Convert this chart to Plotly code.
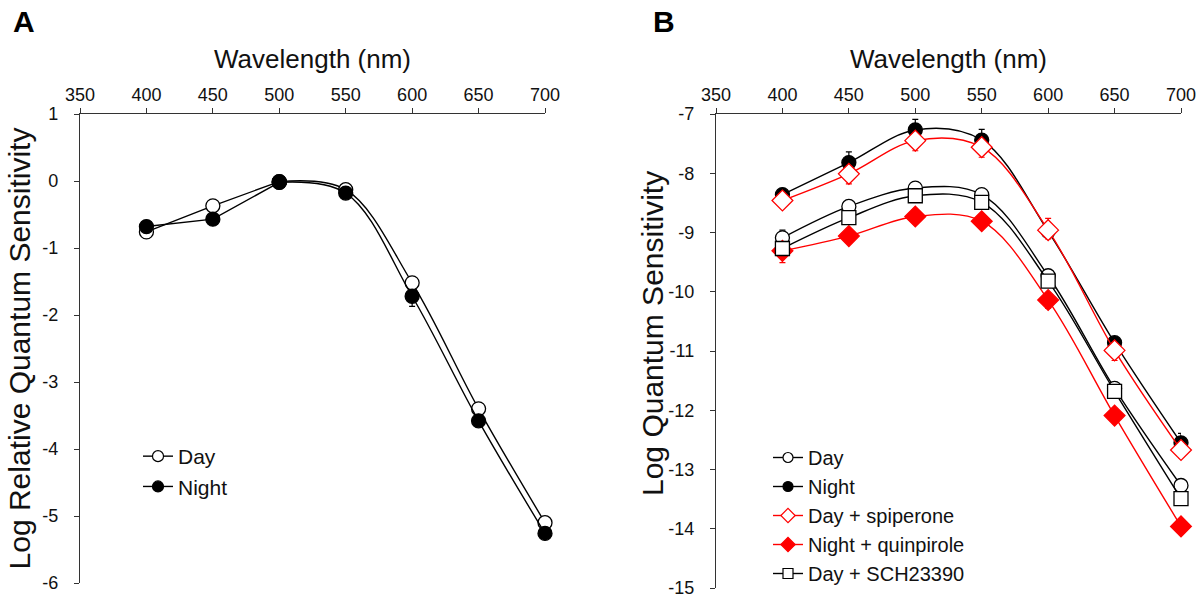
import plotly.graph_objects as go

wavelength = [400, 450, 500, 550, 600, 650, 700]

# Panel A: log relative quantum sensitivity
a_day = [-0.76, -0.37, -0.01, -0.13, -1.52, -3.40, -5.10]
a_night = [-0.68, -0.57, -0.02, -0.18, -1.72, -3.58, -5.26]
a_night_err_minus = [0.0, 0.0, 0.0, 0.0, 0.15, 0.0, 0.0]

# Panel B: log quantum sensitivity
b_day = [-9.09, -8.56, -8.25, -8.36, -9.73, -11.63, -13.27]
b_day_err_plus = [0.13, 0.05, 0.05, 0.0, 0.0, 0.0, 0.0]
b_night = [-8.36, -7.82, -7.27, -7.44, -8.98, -10.86, -12.55]
b_night_err_plus = [0.04, 0.18, 0.18, 0.18, 0.0, 0.05, 0.16]
b_spip = [-8.46, -8.01, -7.45, -7.56, -8.96, -10.99, -12.67]
b_spip_err_minus = [0.03, 0.17, 0.17, 0.17, 0.15, 0.17, 0.13]
b_spip_err_plus = [0.0, 0.0, 0.0, 0.0, 0.2, 0.0, 0.0]
b_quin = [-9.31, -9.06, -8.73, -8.81, -10.14, -12.09, -13.96]
b_quin_err_minus = [0.2, 0.0, 0.0, 0.0, 0.14, 0.0, 0.0]
b_quin_err_plus = [0.0, 0.0, 0.0, 0.0, 0.12, 0.0, 0.0]
b_sch = [-9.27, -8.75, -8.38, -8.49, -9.82, -11.68, -13.49]

x_ticks = [350, 400, 450, 500, 550, 600, 650, 700]
a_yticks = [1, 0, -1, -2, -3, -4, -5, -6]
a_yticklabels = ["1", "0", "-1", "-2", "-3", "-4", "-5", "-6"]
b_yticks = [-7, -8, -9, -10, -11, -12, -13, -14, -15]
b_yticklabels = ["-7", "-8", "-9", "-10", "-11", "-12", "-13", "-14", "-15"]

W, H = 1200, 598
FONT = "Liberation Sans, Arial, sans-serif"
RED = "#ff0000"
BLK = "#000000"

fig = go.Figure()

def px(xp):
    return xp / W

def py(yp):
    return 1 - yp / H

# ---- Panel A ----
for name, ys, fill, err in [("Day", a_day, "white", None), ("Night", a_night, BLK, a_night_err_minus)]:
    marker = dict(symbol="circle", size=14, color=fill, line=dict(color=BLK, width=1.3))
    fig.add_trace(go.Scatter(
        x=wavelength[:3], y=ys[:3], mode="lines+markers", name=name, showlegend=False,
        line=dict(color=BLK, width=1.4), marker=marker,
        xaxis="x", yaxis="y", cliponaxis=False))
    kw = {}
    if err is not None:
        kw["error_y"] = dict(type="data", symmetric=False, array=[0]*4, arrayminus=err[2:],
                             color=BLK, thickness=1.2, width=3)
    fig.add_trace(go.Scatter(
        x=wavelength[2:], y=ys[2:], mode="lines+markers", name=name, showlegend=False,
        line=dict(color=BLK, width=1.4, shape="spline", smoothing=1.0), marker=marker,
        xaxis="x", yaxis="y", cliponaxis=False, **kw))
    # legend entry
    fig.add_trace(go.Scatter(
        x=[None], y=[None], mode="lines+markers", name=name,
        line=dict(color=BLK, width=1.4),
        marker=dict(symbol="circle", size=11, color=fill, line=dict(color=BLK, width=1.2)),
        xaxis="x", yaxis="y", legend="legend"))

# ---- Panel B ----
b_series = [
    ("Day", b_day, "circle", "white", BLK, b_day_err_plus, None, 14, 10),
    ("Night", b_night, "circle", BLK, BLK, b_night_err_plus, None, 14, 10),
    ("Day + spiperone", b_spip, "diamond", "white", RED, b_spip_err_plus, b_spip_err_minus, 16, 11),
    ("Night + quinpirole", b_quin, "diamond", RED, RED, b_quin_err_plus, b_quin_err_minus, 16, 11),
    ("Day + SCH23390", b_sch, "square", "white", BLK, None, None, 14, 10),
]
for name, ys, sym, fill, col, eplus, eminus, size, lsize in b_series:
    kw = {}
    if eplus is not None or eminus is not None:
        kw["error_y"] = dict(type="data", symmetric=False,
                             array=eplus if eplus is not None else [0]*7,
                             arrayminus=eminus if eminus is not None else [0]*7,
                             color=col, thickness=1.2, width=3)
    fig.add_trace(go.Scatter(
        x=wavelength, y=ys, mode="lines+markers", name=name, showlegend=False,
        line=dict(color=col, width=1.4, shape="spline", smoothing=1.0),
        marker=dict(symbol=sym, size=size, color=fill, line=dict(color=col, width=1.3)),
        xaxis="x2", yaxis="y2", cliponaxis=False, **kw))
    fig.add_trace(go.Scatter(
        x=[None], y=[None], mode="lines+markers", name=name,
        line=dict(color=col, width=1.4),
        marker=dict(symbol=sym, size=lsize, color=fill, line=dict(color=col, width=1.2)),
        xaxis="x2", yaxis="y2", legend="legend2"))

axis_common = dict(
    showgrid=False, zeroline=False, showline=True, linecolor="#333333", linewidth=1.3,
    ticks="outside", ticklen=5, tickwidth=1.2, tickcolor="#333333", automargin=False,
    ticklabeloverflow="allow",
    tickfont=dict(family=FONT, size=18, color="#111111"),
)

fig.update_layout(
    width=W, height=H,
    margin=dict(l=0, r=0, t=0, b=0, autoexpand=False),
    paper_bgcolor="white", plot_bgcolor="white",
    font=dict(family=FONT, color="#111111"),
    showlegend=True,
    xaxis=dict(domain=[px(80), px(545)], range=[350, 700], side="top", anchor="y",
               tickvals=x_ticks,
               title=dict(text="Wavelength (nm)", font=dict(family=FONT, size=26), standoff=8),
               **axis_common),
    yaxis=dict(domain=[py(583), py(114)], range=[-6, 1], anchor="x",
               tickvals=a_yticks, ticktext=a_yticklabels, ticklabelstandoff=12,
               title=dict(text="Log Relative Quantum Sensitivity", font=dict(family=FONT, size=30), standoff=2),
               **axis_common),
    xaxis2=dict(domain=[px(716), px(1181)], range=[350, 700], side="top", anchor="y2",
                tickvals=x_ticks,
                title=dict(text="Wavelength (nm)", font=dict(family=FONT, size=26), standoff=8),
                **axis_common),
    yaxis2=dict(domain=[py(588), py(114)], range=[-15, -7], anchor="x2",
                tickvals=b_yticks, ticktext=b_yticklabels, ticklabelstandoff=12,
                **axis_common),
    legend=dict(x=px(138), y=py(436), xanchor="left", yanchor="top",
                font=dict(family=FONT, size=21), itemwidth=30, bgcolor="rgba(0,0,0,0)",
                tracegroupgap=0),
    legend2=dict(x=px(768), y=py(438), xanchor="left", yanchor="top",
                 font=dict(family=FONT, size=20), itemwidth=30, bgcolor="rgba(0,0,0,0)",
                 tracegroupgap=0),
    annotations=[
        dict(text="<b>A</b>", x=px(11), y=py(22), xref="paper", yref="paper",
             xanchor="left", yanchor="middle", showarrow=False,
             font=dict(family=FONT, size=30, color="black")),
        dict(text="<b>B</b>", x=px(651), y=py(22), xref="paper", yref="paper",
             xanchor="left", yanchor="middle", showarrow=False,
             font=dict(family=FONT, size=30, color="black")),
        dict(text="Log Quantum Sensitivity", x=px(652), y=py(334), xref="paper", yref="paper",
             xanchor="center", yanchor="middle", textangle=-90, showarrow=False,
             font=dict(family=FONT, size=30, color="#111111")),
    ],
)

fig.write_html("out.html", config={"displayModeBar": False},
               post_script="document.body.style.margin='0';document.body.style.padding='0';")
